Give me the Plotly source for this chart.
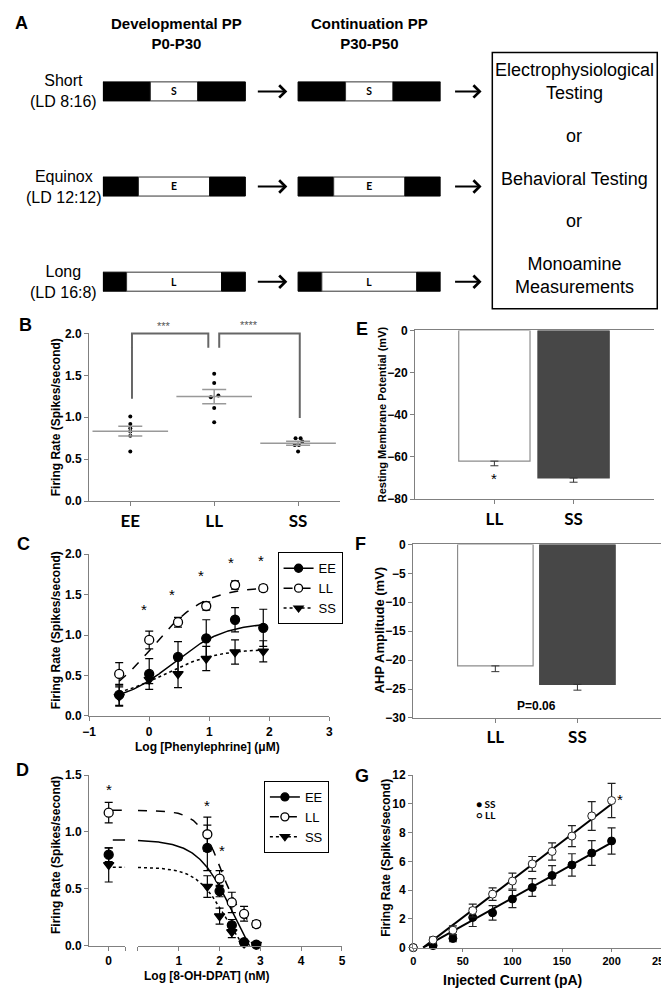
import numpy as np
import plotly.graph_objects as go

W, H = 669, 991


def PX(x):
    return x / W


def PY(y):
    return 1 - y / H


ARIAL = "Liberation Sans, Arial, sans-serif"
CAL = "Lato, Carlito, Calibri, sans-serif"
AXC = "#808080"

# ---------------- Data ----------------
# Panel A: photoperiod design
pp_rows = ["Short", "Equinox", "Long"]
pp_light_hours = [8, 12, 16]
pp_letters = ["S", "E", "L"]
pp_headers = ["Developmental PP", "Continuation PP"]
pp_ages = ["P0-P30", "P30-P50"]
a_outcomes = ["Electrophysiological<br>Testing", "or", "Behavioral Testing", "or",
              "Monoamine<br>Measurements"]

# Panel B: baseline firing rate (individual cells)
b_groups = ["EE", "LL", "SS"]
b_ee_rates = [1.01, 0.92, 0.87, 0.83, 0.78, 0.59]
b_ll_rates = [1.52, 1.41, 1.26, 1.24, 1.11, 0.94]
b_ss_rates = [0.75, 0.75, 0.71, 0.67, 0.67, 0.59]
b_sig_labels = ["***", "****"]

# Panel C: phenylephrine dose response
c_log_conc = [-0.5, 0.0, 0.48, 0.95, 1.43, 1.9]
c_ee = [0.26, 0.52, 0.73, 0.96, 1.19, 1.09]
c_ee_sem = [0.13, 0.19, 0.19, 0.23, 0.15, 0.23]
c_ll = [0.52, 0.94, 1.16, 1.36, 1.62, 1.58]
c_ll_sem = [0.14, 0.11, 0.06, 0.05, 0.05, 0.04]
c_ss = [0.24, 0.45, 0.52, 0.71, 0.79, 0.80]
c_ss_sem = [0.12, 0.05, 0.17, 0.15, 0.15, 0.13]
# sigmoid fits: (bottom, top, logEC50, hill)
c_ee_fit = (0.15, 1.16, 0.40, 1.0)
c_ll_fit = (0.10, 1.60, 0.05, 1.0)
c_ss_fit = (0.20, 0.83, 0.25, 1.0)
c_star_x = [-0.08, 0.38, 0.86, 1.36, 1.87]
c_star_y = [1.35, 1.54, 1.77, 1.94, 1.96]

# Panel D: 8-OH-DPAT dose response
d_ctrl_ee, d_ctrl_ee_sem = 0.80, 0.06
d_ctrl_ll, d_ctrl_ll_sem = 1.17, 0.09
d_ctrl_ss, d_ctrl_ss_sem = 0.71, 0.15
d_log_conc = [1.7, 2.0, 2.3, 2.6, 2.9]
d_ee = [0.86, 0.48, 0.18, 0.03, 0.01]
d_ee_sem = [0.20, 0.05, 0.05, 0.01, 0.01]
d_ll = [0.98, 0.59, 0.38, 0.28, 0.19]
d_ll_sem = [0.15, 0.07, 0.09, 0.065, 0.03]
d_ss = [0.52, 0.26, 0.12, 0.02, 0.01]
d_ss_sem = [0.095, 0.07, 0.05, 0.01, 0.01]
# inhibition fits: (bottom, top, logIC50, hill)
d_ee_fit = (-0.40, 0.93, 2.35, 1.0)
d_ll_fit = (0.12, 1.19, 2.05, 1.5)
d_ss_fit = (-0.20, 0.69, 2.15, 1.2)
d_star_ctrl = (0.0, 1.40)
d_star_x = [1.7, 2.05]
d_star_y = [1.255, 0.86]

# Panel E: resting membrane potential
e_groups = ["LL", "SS"]
e_rmp = [-62.0, -70.0]
e_rmp_sem = [2.2, 2.0]

# Panel F: AHP amplitude
f_ahp = [-21.0, -24.2]
f_ahp_sem = [1.0, 1.0]

# Panel G: current injection
g_current = [0, 20, 40, 60, 80, 100, 120, 140, 160, 180, 200]
g_ll = [0, 0.53, 1.21, 2.58, 3.72, 4.63, 5.82, 6.69, 7.76, 9.16, 10.23]
g_ll_sem = [0, 0.20, 0.30, 0.45, 0.43, 0.55, 0.52, 0.60, 0.73, 1.00, 1.19]
g_ss = [0, 0.14, 0.64, 2.10, 2.42, 3.38, 4.18, 5.02, 5.75, 6.58, 7.42]
g_ss_sem = [0, 0.10, 0.23, 0.63, 0.50, 0.60, 0.62, 0.68, 0.78, 0.86, 0.91]
# linear fits: (slope, intercept)
g_ll_fit = (0.0526, -0.526)
g_ss_fit = (0.0384, -0.384)

# ---------------- Figure ----------------
fig = go.Figure()
annotations = []


def ann_px(text, x, y, size=12, bold=True, family=ARIAL, angle=0, color="black",
           xanchor="center"):
    return dict(text=f"<b>{text}</b>" if bold else text, x=PX(x), y=PY(y),
                xref="paper", yref="paper", showarrow=False,
                font=dict(family=family, size=size, color=color),
                textangle=angle, xanchor=xanchor, yanchor="middle")


def star(x, y, xref, yref, text="*", size=15, color="black"):
    return dict(text=text, x=x, y=y, xref=xref, yref=yref, showarrow=False,
                font=dict(family=ARIAL, size=size, color=color), yshift=-3)


def sig_up(x, b, t, ec, h):
    x = np.asarray(x)
    return b + (t - b) / (1 + 10 ** (h * (ec - x)))


def sig_down(x, b, t, ic, h):
    x = np.asarray(x)
    return b + (t - b) / (1 + 10 ** (h * (x - ic)))


# ---- Panel A ----
row_idx = list(range(len(pp_rows)))
col_offsets = [0.0, 32.88]
for off in col_offsets:
    dark = [(24 - L) / 2 for L in pp_light_hours]
    fig.add_bar(y=row_idx, x=dark, base=[off] * 3, orientation="h", width=0.2,
                marker=dict(color="black", line=dict(color="black", width=1)),
                xaxis="x", yaxis="y", showlegend=False, hoverinfo="skip")
    fig.add_bar(y=row_idx, x=pp_light_hours, base=[off + d for d in dark],
                orientation="h", width=0.2,
                marker=dict(color="white", line=dict(color="#333333", width=1)),
                text=[f"<b>{t}</b>" for t in pp_letters], textposition="inside",
                insidetextanchor="middle", textangle=0,
                textfont=dict(family=CAL, size=12, color="black"),
                xaxis="x", yaxis="y", showlegend=False, hoverinfo="skip")
    fig.add_bar(y=row_idx, x=dark, base=[off + d + L for d, L in zip(dark, pp_light_hours)],
                orientation="h", width=0.2,
                marker=dict(color="black", line=dict(color="black", width=1)),
                xaxis="x", yaxis="y", showlegend=False, hoverinfo="skip")

for i, (r, L) in enumerate(zip(pp_rows, pp_light_hours)):
    annotations.append(dict(text=f"{r}<br>(LD {L}:{24 - L})", x=PX(50), y=i,
                            xref="paper", yref="y", showarrow=False,
                            font=dict(family=ARIAL, size=16, color="black"),
                            xanchor="center", yanchor="middle"))
    for hx, length in [(279, 31), (478, 28)]:
        annotations.append(dict(text="", x=PX(hx), y=i, xref="paper", yref="y",
                                showarrow=True, ax=-length, ay=0, arrowhead=4,
                                arrowsize=1.2, arrowwidth=2, arrowcolor="black"))

for hdr, age, cx in zip(pp_headers, pp_ages, [165, 363]):
    annotations.append(ann_px(f"{hdr}<br>{age}", cx, 19, size=15))

for txt, yy in zip(a_outcomes, [67.5, 123, 166, 209, 264]):
    annotations.append(ann_px(txt, 573, yy, size=18, bold=False))

shapes = [dict(type="rect", xref="paper", yref="paper", x0=PX(489), x1=PX(658),
               y0=PY(298), y1=PY(38), line=dict(color="black", width=1.5))]

# ---- Panel B ----
b_sets = [b_ee_rates, b_ll_rates, b_ss_rates]
b_jitter = [[0, 0, 0, 0, 0, 0],
            [0, 0, 0.05, -0.04, 0, 0],
            [-0.03, 0.03, 0.05, -0.04, 0.01, 0]]
for gi, (vals, jit) in enumerate(zip(b_sets, b_jitter)):
    fig.add_scatter(x=[gi + j for j in jit], y=vals, mode="markers",
                    marker=dict(color="black", size=4), xaxis="x2", yaxis="y2",
                    showlegend=False, hoverinfo="skip")
b_means = [float(np.mean(v)) for v in b_sets]
b_sems = [float(np.std(v, ddof=1) / np.sqrt(len(v))) for v in b_sets]
fig.add_scatter(x=[0, 1, 2], y=b_means, mode="markers",
                marker=dict(symbol="line-ew", size=54, color="#999999",
                            line=dict(color="#999999", width=1.6)),
                error_y=dict(type="data", array=b_sems, color="#999999",
                             thickness=1.5, width=12),
                xaxis="x2", yaxis="y2", showlegend=False, hoverinfo="skip")
# significance brackets (overlay axes)
fig.add_scatter(x=[0.02, 0.02, 0.93, 0.93], y=[1.22, 2.0, 2.0, 1.83], mode="lines",
                line=dict(color="#666666", width=2), xaxis="x9", yaxis="y9",
                showlegend=False, hoverinfo="skip")
fig.add_scatter(x=[1.06, 1.06, 2.02, 2.02], y=[1.83, 2.0, 2.0, 0.99], mode="lines",
                line=dict(color="#666666", width=2), xaxis="x9", yaxis="y9",
                showlegend=False, hoverinfo="skip")
annotations.append(star(0.40, 2.12, "x9", "y9", text=b_sig_labels[0], size=11,
                        color="#555555"))
annotations.append(star(1.41, 2.14, "x9", "y9", text=b_sig_labels[1], size=11,
                        color="#555555"))

# ---- Panel C ----
styles = {
    "EE": dict(dash="solid", sym="circle", fill="black"),
    "LL": dict(dash="dash", sym="circle", fill="white"),
    "SS": dict(dash="dot", sym="triangle-down", fill="black"),
}
c_xs = np.linspace(c_log_conc[0], c_log_conc[-1], 120)
for name, fit in [("EE", c_ee_fit), ("LL", c_ll_fit), ("SS", c_ss_fit)]:
    fig.add_scatter(x=c_xs, y=sig_up(c_xs, *fit), mode="lines",
                    line=dict(color="black", width=1.5, dash=styles[name]["dash"]),
                    xaxis="x3", yaxis="y3", showlegend=False, hoverinfo="skip")
for name, vals, sem in [("SS", c_ss, c_ss_sem), ("EE", c_ee, c_ee_sem), ("LL", c_ll, c_ll_sem)]:
    st = styles[name]
    fig.add_scatter(x=c_log_conc, y=vals, mode="markers",
                    marker=dict(symbol=st["sym"], size=9, color=st["fill"],
                                line=dict(color="black", width=1.3)),
                    error_y=dict(type="data", array=sem, color="black", thickness=1.2, width=4),
                    xaxis="x3", yaxis="y3", showlegend=False, cliponaxis=False,
                    hoverinfo="skip")
for sx, sy in zip(c_star_x, c_star_y):
    annotations.append(star(sx, sy, "x3", "y3"))

# ---- Panel D ----
d_xs = np.linspace(0, 2.92, 150)
ctrl_vals = {"EE": (d_ctrl_ee, d_ctrl_ee_sem), "LL": (d_ctrl_ll, d_ctrl_ll_sem),
             "SS": (d_ctrl_ss, d_ctrl_ss_sem)}
for name, fit in [("EE", d_ee_fit), ("LL", d_ll_fit), ("SS", d_ss_fit)]:
    fig.add_scatter(x=d_xs, y=sig_down(d_xs, *fit), mode="lines",
                    line=dict(color="black", width=1.5, dash=styles[name]["dash"]),
                    xaxis="x5", yaxis="y4", showlegend=False, hoverinfo="skip")
    fig.add_scatter(x=[0.1, 0.40], y=[fit[1], fit[1]], mode="lines",
                    line=dict(color="black", width=1.5, dash=styles[name]["dash"]),
                    xaxis="x4", yaxis="y4", showlegend=False, hoverinfo="skip")
for name, vals, sem in [("SS", d_ss, d_ss_sem), ("EE", d_ee, d_ee_sem), ("LL", d_ll, d_ll_sem)]:
    st = styles[name]
    mk = dict(symbol=st["sym"], size=9, color=st["fill"], line=dict(color="black", width=1.3))
    fig.add_scatter(x=d_log_conc, y=vals, mode="markers", marker=mk,
                    error_y=dict(type="data", array=sem, color="black", thickness=1.2, width=4),
                    xaxis="x5", yaxis="y4", showlegend=False, cliponaxis=False,
                    hoverinfo="skip")
    cv, cs = ctrl_vals[name]
    fig.add_scatter(x=[0], y=[cv], mode="markers", marker=mk,
                    error_y=dict(type="data", array=[cs], color="black", thickness=1.2, width=4),
                    xaxis="x4", yaxis="y4", showlegend=False, cliponaxis=False,
                    hoverinfo="skip")
annotations.append(star(d_star_ctrl[0], d_star_ctrl[1], "x4", "y4"))
for sx, sy in zip(d_star_x, d_star_y):
    annotations.append(star(sx, sy, "x5", "y4"))

# legend proxies for C and D
for lg, xa, ya in [("legend", "x3", "y3"), ("legend2", "x5", "y4")]:
    for name in ["EE", "LL", "SS"]:
        st = styles[name]
        fig.add_scatter(x=[None], y=[None], mode="lines+markers", name=name,
                        line=dict(color="black", width=1.5, dash=st["dash"]),
                        marker=dict(symbol=st["sym"], size=8, color=st["fill"],
                                    line=dict(color="black", width=1.3)),
                        xaxis=xa, yaxis=ya, legend=lg, showlegend=True)

# ---- Panel E ----
fig.add_bar(x=[0, 1], y=e_rmp, width=0.9,
            marker=dict(color=["white", "#474747"],
                        line=dict(color=["#8c8c8c", "#474747"], width=1.2)),
            error_y=dict(type="data", symmetric=False, array=[0, 0], arrayminus=e_rmp_sem,
                         color="#333333", thickness=1, width=4),
            xaxis="x6", yaxis="y6", showlegend=False, hoverinfo="skip")
annotations.append(star(0, -69, "x6", "y6"))

# ---- Panel F ----
fig.add_bar(x=[0, 1], y=f_ahp, width=0.92,
            marker=dict(color=["white", "#474747"],
                        line=dict(color=["#8c8c8c", "#474747"], width=1.2)),
            error_y=dict(type="data", symmetric=False, array=[0, 0], arrayminus=f_ahp_sem,
                         color="#333333", thickness=1, width=4),
            xaxis="x7", yaxis="y7", showlegend=False, hoverinfo="skip")
annotations.append(dict(text="<b>P=0.06</b>", x=0.5, y=-27.9, xref="x7", yref="y7",
                        showarrow=False, font=dict(family=ARIAL, size=12, color="black")))

# ---- Panel G ----
for (slope, icpt) in [g_ll_fit, g_ss_fit]:
    x0 = -icpt / slope
    xs = np.array([x0, g_current[-1]])
    fig.add_scatter(x=xs, y=slope * xs + icpt, mode="lines",
                    line=dict(color="black", width=2), xaxis="x8", yaxis="y8",
                    showlegend=False, hoverinfo="skip")
fig.add_scatter(x=g_current, y=g_ss, mode="markers",
                marker=dict(color="black", size=8, line=dict(color="black", width=1)),
                error_y=dict(type="data", array=g_ss_sem, color="#222222", thickness=1.2, width=4),
                xaxis="x8", yaxis="y8", showlegend=False, cliponaxis=False, hoverinfo="skip")
fig.add_scatter(x=g_current, y=g_ll, mode="markers",
                marker=dict(color="white", size=8, line=dict(color="#222222", width=1)),
                error_y=dict(type="data", array=g_ll_sem, color="#222222", thickness=1.2, width=4),
                xaxis="x8", yaxis="y8", showlegend=False, cliponaxis=False, hoverinfo="skip")
annotations.append(star(208, 10.5, "x8", "y8"))
annotations.append(dict(text="<b>● SS</b>", x=61, y=10.02, xref="x8", yref="y8",
                        showarrow=False, xanchor="left",
                        font=dict(family=CAL, size=10, color="black")))
annotations.append(dict(text="<b>○ LL</b>", x=61, y=9.2, xref="x8", yref="y8",
                        showarrow=False, xanchor="left",
                        font=dict(family=CAL, size=10, color="black")))

# ---- Titles & panel letters ----
for t, x, y in [("A", 7, 8), ("B", 11, 314), ("C", 9, 537), ("D", 8, 766),
                ("E", 355, 319), ("F", 354, 537), ("G", 355, 772)]:
    annotations.append(ann_px(t, x, y, size=18))
annotations += [
    ann_px("Firing Rate (Spikes/second)", 42, 408, size=12, angle=-90),
    ann_px("Firing Rate (Spikes/second)", 42, 624, size=12, angle=-90),
    ann_px("Log [Phenylephrine] (μM)", 197, 742, size=12),
    ann_px("Firing Rate (Spikes/second)", 42, 852, size=12, angle=-90),
    ann_px("Log [8-OH-DPAT] (nM)", 197, 975, size=12),
    ann_px("Resting Membrane Potential (mV)", 376, 405, size=11, angle=-90),
    ann_px("AHP Amplitude (mV)", 373, 624, size=13, angle=-90),
    ann_px("Firing Rate (Spikes/second)", 380, 855, size=12, angle=-90),
    ann_px("Injected Current (pA)", 510, 979, size=14),
]


def ax(**kw):
    base = dict(showline=True, linecolor=AXC, linewidth=1.3, ticks="outside", ticklen=4,
                tickcolor=AXC, tickwidth=1.2, showgrid=False, zeroline=False,
                tickfont=dict(family=ARIAL, size=12, color="black", weight="bold"),
                fixedrange=True)
    base.update(kw)
    return base


cat_font = dict(family=CAL, size=17, color="black", weight="bold")
small_font = dict(family=ARIAL, size=11, color="black", weight="bold")
hidden = dict(visible=False, showgrid=False, zeroline=False, fixedrange=True)

fig.update_layout(
    width=W, height=H, margin=dict(l=0, r=0, t=0, b=0), autosize=False,
    paper_bgcolor="white", plot_bgcolor="rgba(0,0,0,0)", barmode="overlay",
    showlegend=True,
    # A
    xaxis=dict(domain=[PX(90), PX(436)], range=[0, 56.88], anchor="y", **hidden),
    yaxis=dict(domain=[PY(318.75), PY(29.25)], range=[2.5, -0.5], anchor="x", **hidden),
    # B
    xaxis2=ax(domain=[PX(76), PX(333)], range=[-0.49, 2.5], anchor="y2",
              tickvals=[0, 1, 2], ticktext=b_groups, tickfont=cat_font),
    yaxis2=ax(domain=[PY(493), PY(323)], range=[0, 2], anchor="x2", dtick=0.5,
              tickformat=".1f"),
    xaxis9=dict(domain=[PX(76), PX(333)], range=[-0.49, 2.5], anchor="y9", **hidden),
    yaxis9=dict(domain=[PY(493), PY(300)], range=[0, 193 / 85], anchor="x9", **hidden),
    # C
    xaxis3=ax(domain=[PX(76), PX(322)], range=[-1, 3], anchor="y3", dtick=1),
    yaxis3=ax(domain=[PY(711), PY(547)], range=[0, 2], anchor="x3", dtick=0.5,
              tickformat=".1f"),
    # D
    xaxis4=ax(domain=[PX(76), PX(113)], range=[-0.476, 0.405], anchor="y4",
              tickvals=[0, 0.40], ticktext=["0", ""]),
    xaxis5=ax(domain=[PX(126), PX(335)], range=[0, 5], anchor="y4",
              tickvals=[0, 1, 2, 3, 4, 5], ticktext=["", "1", "2", "3", "4", "5"]),
    yaxis4=ax(domain=[PY(944), PY(771)], range=[0, 1.5], anchor="x4", dtick=0.5,
              tickformat=".1f"),
    # E
    xaxis6=ax(domain=[PX(410), PX(655)], range=[-1, 2.02], anchor="y6",
              tickvals=[0, 1], ticktext=e_groups, tickfont=cat_font, mirror=True),
    yaxis6=ax(domain=[PY(491), PY(320)], range=[-80, 0], anchor="x6", dtick=20),
    # F
    xaxis7=ax(domain=[PX(408), PX(662)], range=[-1, 2.02], anchor="y7",
              tickvals=[0, 1], ticktext=e_groups, tickfont=cat_font, mirror=True),
    yaxis7=ax(domain=[PY(713), PY(537)], range=[-30, 0], anchor="x7", dtick=5),
    # G
    xaxis8=ax(domain=[PX(408), PX(662)], range=[0, 250], anchor="y8", dtick=50,
              tickfont=small_font, ticklen=3),
    yaxis8=ax(domain=[PY(946), PY(771)], range=[0, 12], anchor="x8", dtick=2),
    legend=dict(x=PX(269), y=PY(545), xanchor="left", yanchor="top",
                bordercolor="black", borderwidth=1, bgcolor="white",
                font=dict(family=ARIAL, size=13, color="black"), tracegroupgap=0),
    legend2=dict(x=PX(255), y=PY(777), xanchor="left", yanchor="top",
                 bordercolor="black", borderwidth=1, bgcolor="white",
                 font=dict(family=ARIAL, size=13, color="black"), tracegroupgap=0),
    annotations=annotations,
    shapes=shapes,
)

fig.write_html("out.html", config={"displayModeBar": False})
